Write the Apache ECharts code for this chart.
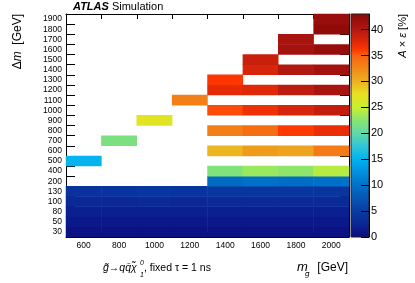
<!DOCTYPE html>
<html><head><meta charset="utf-8">
<script src="https://cdn.jsdelivr.net/npm/echarts@6/dist/echarts.min.js"></script>
<style>html,body{margin:0;padding:0;background:#fff}#c{width:415px;height:283px}</style>
</head><body><div id="c"></div>
<script>
// ---- data ----
const gluinoMass = ['600','800','1000','1200','1400','1600','1800','2000'];
const deltaM = ['30','50','80','100','130','200','400','500','600','700','800','900','1000','1100','1200','1300','1400','1500','1600','1700','1800','1900'];
const colorbarMax = 43;

const dm600  = [30,50,80,100,130,500];
const acc600 = [0.5,1.2,2.0,3.0,4.0,15.3];
const dm800  = [30,50,80,100,130,700];
const acc800 = [0.5,1.2,2.0,3.0,4.1,21.8];
const dm1000  = [30,50,80,100,130,900];
const acc1000 = [0.5,1.3,2.1,3.1,4.4,27.0];
const dm1200  = [30,50,80,100,130,1100];
const acc1200 = [0.5,1.2,2.0,3.0,4.2,33.0];
const dm1400  = [30,50,80,100,130,200,400,600,800,1000,1200,1300];
const acc1400 = [0.5,1.2,2.0,3.1,4.3,9.5,22.0,29.7,33.0,35.5,37.3,36.2];
const dm1600  = [30,50,80,100,130,200,400,600,800,1000,1200,1400,1500];
const acc1600 = [0.5,1.2,2.0,3.1,4.3,10.0,23.2,31.3,34.2,36.8,37.5,38.0,38.7];
const dm1800  = [30,50,80,100,130,200,400,600,800,1000,1200,1400,1600,1700];
const acc1800 = [0.5,1.2,2.0,3.1,4.3,9.7,22.8,30.8,36.0,38.0,39.4,40.0,41.0,40.6];
const dm2000  = [30,50,80,100,130,200,400,600,800,1000,1200,1400,1600,1800,1900];
const acc2000 = [0.5,1.2,2.0,3.1,4.3,10.0,24.3,33.3,37.0,39.0,40.6,41.0,42.0,42.5,41.8];

// ---- palette (style) ----
const paletteStops = [
  [0,'#0c0c80'],[2.5,'#0a2494'],[5,'#083ca4'],[7.5,'#0656b4'],[10,'#0070c8'],
  [12.5,'#0090e0'],[15,'#00b2f0'],[17.5,'#30c6d8'],[20,'#60d8a8'],[22.5,'#88e470'],
  [25,'#c8f030'],[27.5,'#e8e020'],[30,'#ecb020'],[32.5,'#f28818'],[35,'#f86010'],
  [36,'#ff3800'],[37.5,'#e02808'],[40,'#b01810'],[42.5,'#900a0a'],[43,'#880808']
];
function hex2rgb(h){return [parseInt(h.substr(1,2),16),parseInt(h.substr(3,2),16),parseInt(h.substr(5,2),16)];}
function colorAt(v){
  for(let i=0;i<paletteStops.length-1;i++){
    const [a,ca]=paletteStops[i],[b,cb]=paletteStops[i+1];
    if(v>=a&&v<=b){
      const t=(v-a)/(b-a),x=hex2rgb(ca),y=hex2rgb(cb);
      return 'rgb('+x.map((c,k)=>Math.round(c+(y[k]-c)*t)).join(',')+')';
    }
  }
  return paletteStops[paletteStops.length-1][1];
}
const nSteps = 172;
const paletteColors = [];
for(let i=0;i<=nSteps;i++) paletteColors.push(colorAt(colorbarMax*i/nSteps));
const gradStops = paletteStops.map(s=>({offset:1-s[0]/colorbarMax,color:s[1]}));

// ---- build heatmap data ----
const columns = [[dm600,acc600],[dm800,acc800],[dm1000,acc1000],[dm1200,acc1200],
                 [dm1400,acc1400],[dm1600,acc1600],[dm1800,acc1800],[dm2000,acc2000]];
const heatData = [];
columns.forEach(([dms,accs],ci)=>{
  dms.forEach((dm,k)=>heatData.push([ci, deltaM.indexOf(String(dm)), accs[k]]));
});

const FONT = 'Liberation Sans, Arial, Helvetica, sans-serif';
const black = '#000';
const chart = echarts.init(document.getElementById('c'), null, {renderer:'canvas'});

const PL=66, PT=14, PW=283, PH=223;
const CBL=351, CBW=18;

chart.setOption({
  animation:false,
  backgroundColor:'#fff',
  textStyle:{fontFamily:FONT},
  grid:[
    {left:PL, top:PT, width:PW, height:PH, containLabel:false},
    {left:CBL, top:PT, width:CBW, height:PH, containLabel:false}
  ],
  xAxis:[
    {type:'category', gridIndex:0, data:gluinoMass, position:'bottom',
     axisLine:{show:true,lineStyle:{color:black,width:1}},
     axisTick:{show:true,inside:true,length:5,lineStyle:{color:black}},
     axisLabel:{fontSize:8.5,color:black,margin:4,interval:0,fontFamily:FONT},
     splitLine:{show:false}},
    {type:'category', gridIndex:0, data:gluinoMass, position:'top',
     axisLine:{show:true,lineStyle:{color:black,width:1}},
     axisTick:{show:true,inside:true,length:5,lineStyle:{color:black}},
     axisLabel:{show:false}, splitLine:{show:false}},
    {type:'value', gridIndex:1, show:false, min:0, max:1}
  ],
  yAxis:[
    {type:'category', gridIndex:0, data:deltaM, position:'left',
     axisLine:{show:true,lineStyle:{color:black,width:1}},
     axisTick:{show:true,inside:true,length:9,lineStyle:{color:black}},
     axisLabel:{fontSize:8.5,color:black,margin:4,interval:0,fontFamily:FONT},
     splitLine:{show:false}},
    {type:'category', gridIndex:0, data:deltaM, position:'right',
     axisLine:{show:true,lineStyle:{color:black,width:1}},
     axisTick:{show:true,inside:true,length:9,lineStyle:{color:black}},
     axisLabel:{show:false}, splitLine:{show:false}},
    {type:'value', gridIndex:1, min:0, max:colorbarMax, interval:5, position:'right',
     axisLine:{show:true,onZero:false,lineStyle:{color:black,width:1}},
     axisTick:{show:true,inside:true,length:8,lineStyle:{color:black}},
     axisLabel:{fontSize:11,color:black,margin:2,showMaxLabel:false,fontFamily:FONT},
     splitLine:{show:false}}
  ],
  visualMap:{type:'continuous', show:false, min:0, max:colorbarMax, seriesIndex:0,
             inRange:{color:paletteColors}},
  series:[
    {type:'heatmap', xAxisIndex:0, yAxisIndex:0, data:heatData,
     itemStyle:{borderWidth:0}, emphasis:{disabled:true}, z:1},
    {type:'scatter', xAxisIndex:2, yAxisIndex:2, data:[], silent:true}
  ],
  graphic:[
    {type:'rect', z:0, shape:{x:CBL, y:PT, width:CBW, height:PH},
     style:{fill:new echarts.graphic.LinearGradient(0,0,0,1,gradStops), stroke:'#222', lineWidth:1}},
    {type:'text', left:73, top:1, style:{
      text:'{b|ATLAS} Simulation', fill:black, font:'11px '+FONT,
      rich:{b:{fontWeight:'bold',fontStyle:'italic',fontSize:11,fontFamily:FONT}}}},
    {type:'text', x:18, y:14, rotation:Math.PI/2, style:{
      text:'Δ{i|m}  [GeV]', fill:black, font:'12px '+FONT, align:'right', verticalAlign:'middle',
      rich:{i:{fontStyle:'italic',fontSize:12,fontFamily:FONT}}}},
    {type:'text', x:403, y:14, rotation:Math.PI/2, style:{
      text:'{i|A} × {i|ε} [%]', fill:black, font:'11px '+FONT, align:'right', verticalAlign:'middle',
      rich:{i:{fontStyle:'italic',fontSize:11,fontFamily:FONT}}}},
    {type:'text', x:348, y:268, style:{text:'[GeV]', fill:black, font:'12px '+FONT, align:'right', verticalAlign:'middle'}},
    {type:'text', x:297, y:267, style:{text:'m', fill:black, font:'italic 13px '+FONT, align:'left', verticalAlign:'middle'}},
    {type:'text', x:305, y:274, style:{text:'g̃', fill:black, font:'italic 8px '+FONT, align:'left', verticalAlign:'middle'}},
    {type:'text', x:103, y:268, style:{text:'g̃→qq̄χ̃', fill:black, font:'italic 10.5px '+FONT, align:'left', verticalAlign:'middle'}},
    {type:'text', x:140, y:263, style:{text:'0', fill:black, font:'italic 7px '+FONT, align:'left', verticalAlign:'middle'}},
    {type:'text', x:140, y:275, style:{text:'1', fill:black, font:'italic 7px '+FONT, align:'left', verticalAlign:'middle'}},
    {type:'text', x:144, y:268, style:{text:', fixed τ = 1 ns', fill:black, font:'10.5px '+FONT, align:'left', verticalAlign:'middle'}}
  ]
});
</script></body></html>
